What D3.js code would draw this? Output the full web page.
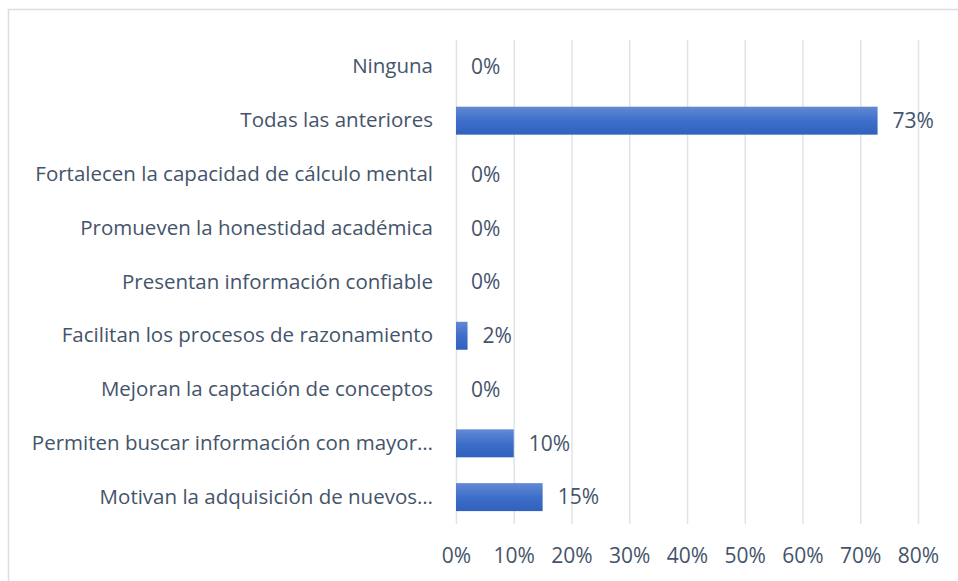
<!DOCTYPE html>
<html>
<head>
<meta charset="utf-8">
<script src="https://cdn.jsdelivr.net/npm/d3@7"></script>
<style>
  body { margin: 0; background: #fff; }
  text { font-family: "Open Sans", "Noto Sans", sans-serif; fill: #44546a; }
</style>
</head>
<body>
<svg></svg>
<script>
// categories top to bottom, as shown in the chart
const categories = [
  "Ninguna",
  "Todas las anteriores",
  "Fortalecen la capacidad de cálculo mental",
  "Promueven la honestidad académica",
  "Presentan información confiable",
  "Facilitan los procesos de razonamiento",
  "Mejoran la captación de conceptos",
  "Permiten buscar información con mayor…",
  "Motivan la adquisición de nuevos…"
];
const values = [0, 73, 0, 0, 0, 2, 0, 10, 15];
const xTicks = [0, 10, 20, 30, 40, 50, 60, 70, 80];

const width = 958, height = 581;
const margin = {top: 40, right: 40, bottom: 57, left: 456};
const graphWidth = 918 - margin.left;
const graphHeight = height - margin.top - margin.bottom;

const svg = d3.select("svg")
  .attr("width", width)
  .attr("height", height);

// outer chart border
svg.append("rect")
  .attr("x", 8.5).attr("y", 9.5)
  .attr("width", 960).attr("height", 600)
  .attr("fill", "none")
  .attr("stroke", "#d9dde4")
  .attr("stroke-width", 1.5);

const defs = svg.append("defs");
const grad = defs.append("linearGradient")
  .attr("id", "barGrad")
  .attr("x1", 0).attr("y1", 0).attr("x2", 0).attr("y2", 1);
grad.append("stop").attr("offset", "0%").attr("stop-color", "#6389d2");
grad.append("stop").attr("offset", "50%").attr("stop-color", "#3d6fca");
grad.append("stop").attr("offset", "100%").attr("stop-color", "#2f61bd");

const graph = svg.append("g")
  .attr("transform", `translate(${margin.left}, ${margin.top})`);

const xScale = d3.scaleLinear()
  .domain([0, 80])
  .range([0, graphWidth]);

const yScale = d3.scaleBand()
  .domain(categories)
  .range([0, graphHeight])
  .paddingInner(0.48)
  .paddingOuter(0.24);

// gridlines + tick labels
const xAxis = d3.axisBottom(xScale)
  .tickValues(xTicks)
  .tickFormat(d => d + "%")
  .tickSize(-graphHeight)
  .tickPadding(24);

const xAxisGroup = graph.append("g")
  .attr("transform", `translate(0, ${graphHeight})`)
  .call(xAxis);
xAxisGroup.select(".domain").remove();
xAxisGroup.selectAll("line")
  .attr("stroke", "#dfe3ea")
  .attr("stroke-width", 1.5);
xAxisGroup.selectAll("text")
  .attr("font-size", 21)
  .attr("font-family", null)
  .style("fill", "#44546a");

// category labels
const yAxis = d3.axisLeft(yScale).tickSize(0).tickPadding(23);
const yAxisGroup = graph.append("g").call(yAxis);
yAxisGroup.select(".domain").remove();
yAxisGroup.selectAll("text")
  .attr("font-size", 20.5)
  .attr("font-family", null)
  .style("fill", "#44546a");

// bars
graph.selectAll("rect.bar")
  .data(values)
  .enter().append("rect")
    .attr("class", "bar")
    .attr("x", 0)
    .attr("y", (d, i) => yScale(categories[i]))
    .attr("width", d => xScale(d))
    .attr("height", yScale.bandwidth())
    .attr("fill", "url(#barGrad)");

// value labels
graph.selectAll("text.val")
  .data(values)
  .enter().append("text")
    .attr("class", "val")
    .attr("x", d => xScale(d) + 15)
    .attr("y", (d, i) => yScale(categories[i]) + yScale.bandwidth() / 2)
    .attr("dy", "0.35em")
    .attr("font-size", 21)
    .text(d => d + "%");
</script>
</body>
</html>
